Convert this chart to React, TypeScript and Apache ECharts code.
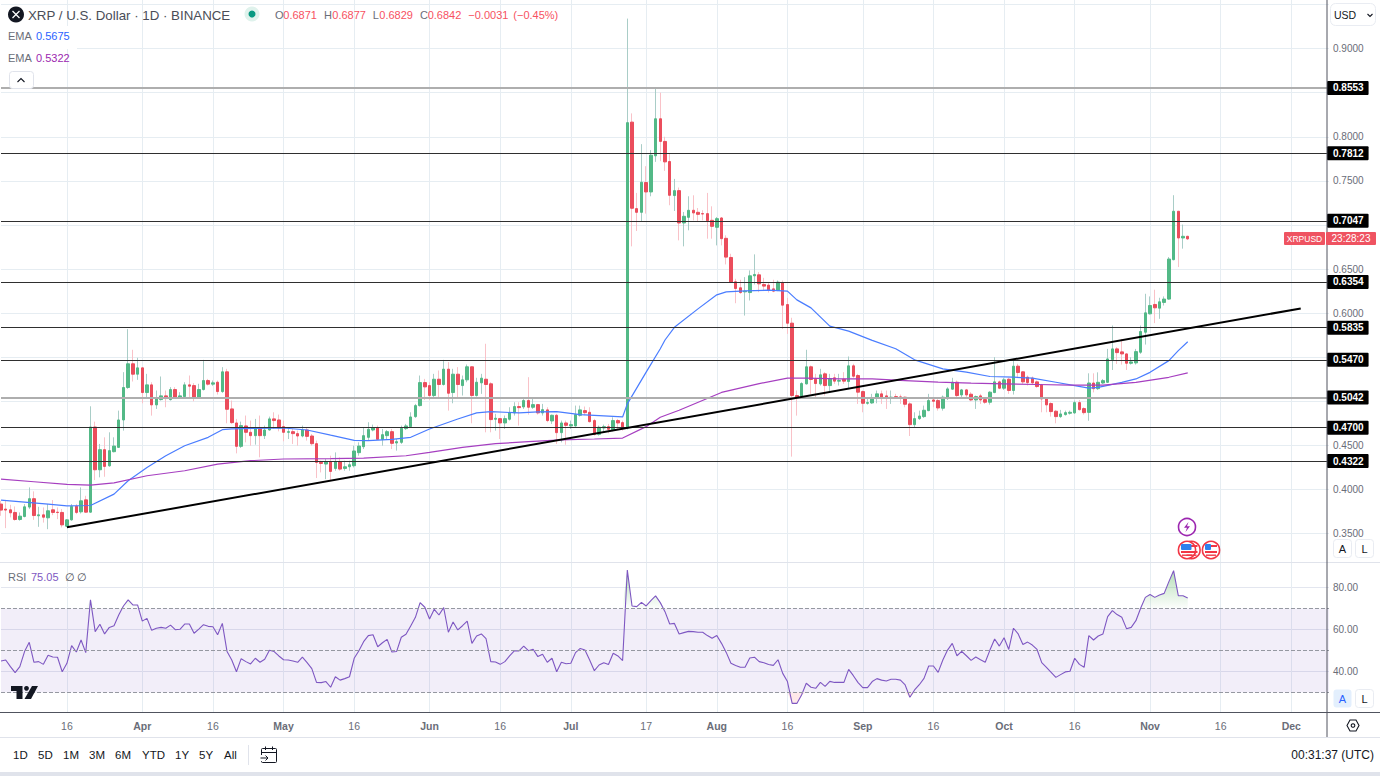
import React, { useEffect, useRef } from "react";
import * as echarts from "echarts";

type Row = [number, number, number, number];

// Daily candles, each row: open, close, low, high
const marchCandles: Row[] = [
  [.3834,.3766,.3701,.3872],[.3777,.3766,.3561,.3872],[.3769,.3735,.3683,.3826],[.3739,.3659,.3645,.3807],[.3659,.3697,.3645,.3739],
  [.3693,.3803,.3683,.3834],[.3800,.3895,.3777,.4023],[.3895,.3704,.3655,.3978],[.3701,.3712,.3576,.3803],[.3712,.3685,.3624,.3796],
  [.3678,.3758,.3549,.3834],[.3769,.3739,.3708,.3879],[.3742,.3738,.3663,.3796],[.3739,.3598,.3569,.3777],[.3583,.3655,.3576,.3663],
  [.3655,.3807,.3645,.3834],[.3810,.3739,.3720,.3834],[.3746,.3871,.3727,.4023],[.3882,.3742,.3734,.3928],[.3742,.4708,.3734,.4943],
  [.4708,.4223,.4106,.4769],[.4223,.4451,.4137,.4516],[.4451,.4261,.4144,.4591],[.4268,.4440,.4257,.4648],[.4428,.4492,.4420,.4591],
  [.4477,.4788,.4470,.4894],[.4788,.5156,.4667,.5330],[.5156,.5425,.5140,.5818],[.5425,.5307,.5224,.5584],[.5307,.5379,.5243,.5493],
];
const aprilCandles: Row[] = [
  [.5379,.5099,.4977,.5387],[.5099,.5186,.5027,.5311],[.5186,.4959,.4837,.5216],[.4959,.5031,.4913,.5122],[.5019,.5061,.5008,.5281],
  [.5061,.5031,.4932,.5122],[.5019,.5133,.5008,.5160],[.5133,.5046,.5038,.5160],[.5046,.5061,.5038,.5103],[.5053,.5186,.5038,.5216],
  [.5186,.5171,.5046,.5292],[.5178,.5042,.5000,.5205],[.5042,.5133,.5034,.5198],[.5133,.5235,.5122,.5470],[.5235,.5194,.5178,.5254],
  [.5194,.5209,.5175,.5235],[.5216,.5110,.5076,.5235],[.5110,.5334,.5095,.5387],[.5334,.4909,.4750,.5368],[.4913,.4758,.4743,.5008],
  [.4754,.4489,.4409,.4800],[.4489,.4724,.4470,.4769],[.4720,.4648,.4534,.4838],[.4648,.4610,.4496,.4781],[.4610,.4693,.4508,.4800],
  [.4697,.4610,.4364,.4838],[.4610,.4674,.4572,.4724],[.4674,.4800,.4667,.4826],[.4800,.4781,.4686,.4875],[.4788,.4697,.4659,.4849],
];
const mayCandles: Row[] = [
  [.4712,.4648,.4546,.4781],[.4648,.4655,.4572,.4705],[.4655,.4633,.4516,.4686],[.4633,.4606,.4496,.4667],[.4606,.4674,.4591,.4724],
  [.4674,.4602,.4554,.4697],[.4606,.4519,.4496,.4629],[.4519,.4307,.4129,.4554],[.4307,.4295,.4193,.4326],[.4288,.4314,.4117,.4345],
  [.4314,.4204,.4099,.4383],[.4238,.4314,.4212,.4420],[.4314,.4231,.4212,.4364],[.4238,.4257,.4212,.4326],[.4257,.4280,.4212,.4326],
  [.4269,.4436,.4250,.4496],[.4417,.4492,.4383,.4534],[.4485,.4610,.4458,.4705],[.4591,.4682,.4553,.4762],[.4674,.4701,.4659,.4735],
  [.4701,.4568,.4561,.4724],[.4568,.4621,.4496,.4686],[.4610,.4655,.4561,.4674],[.4655,.4523,.4458,.4686],[.4527,.4542,.4440,.4572],
  [.4534,.4693,.4515,.4724],[.4690,.4720,.4674,.4743],[.4712,.4822,.4697,.4875],[.4826,.4951,.4811,.4970],[.4951,.5212,.4940,.5292],
  [.5212,.5163,.5015,.5254],
];
const juneCandles: Row[] = [
  [.5178,.5065,.5015,.5216],[.5065,.5250,.5038,.5311],[.5250,.5190,.5046,.5349],[.5190,.5364,.5178,.5470],[.5364,.5091,.4894,.5444],
  [.5099,.5307,.4977,.5368],[.5307,.5190,.5038,.5387],[.5178,.5243,.5065,.5292],[.5243,.5391,.5216,.5417],[.5391,.5065,.4750,.5394],
  [.5065,.5216,.5053,.5266],[.5209,.5262,.5084,.5311],[.5250,.5190,.4648,.5652],[.5198,.4792,.4648,.5216],[.4796,.4807,.4667,.4857],
  [.4803,.4754,.4572,.4811],[.4754,.4803,.4686,.4838],[.4796,.4871,.4781,.4932],[.4868,.4940,.4838,.4989],[.4940,.4928,.4724,.4989],
  [.4936,.5008,.4913,.5046],[.5008,.4932,.4849,.5273],[.4932,.4962,.4913,.5027],[.4962,.4868,.4849,.4970],[.4868,.4905,.4838,.4970],
  [.4902,.4781,.4762,.4932],[.4777,.4841,.4743,.4849],[.4841,.4644,.4515,.4857],[.4644,.4754,.4534,.4781],[.4754,.4727,.4507,.4781],
];
const julyCandles: Row[] = [
  [.4720,.4735,.4686,.4781],[.4720,.4849,.4712,.4951],[.4841,.4902,.4826,.4951],[.4894,.4871,.4841,.4940],[.4875,.4769,.4758,.4932],
  [.4781,.4625,.4610,.4800],[.4625,.4705,.4610,.4724],[.4697,.4712,.4648,.4735],[.4712,.4682,.4637,.4743],[.4674,.4781,.4659,.4818],
  [.4781,.4754,.4674,.4800],[.4758,.4697,.4667,.4781],[.4698,.8160,.4680,.9340],[.8166,.7189,.6757,.8265],[.7185,.7143,.6931,.7363],
  [.7143,.7484,.7033,.7916],[.7481,.7374,.7128,.7666],[.7374,.7791,.7325,.7848],[.7784,.8204,.7715,.8549],[.8204,.7947,.7723,.8500],
  [.7947,.7715,.7613,.8000],[.7719,.7336,.7223,.7803],[.7333,.7389,.7158,.7522],[.7389,.7022,.6825,.7424],[.7022,.7098,.6757,.7147],
  [.7086,.7166,.6939,.7325],[.7166,.7136,.7052,.7336],[.7143,.7120,.7033,.7192],[.7128,.7124,.7052,.7166],[.7128,.7048,.6844,.7363],
  [.7052,.6984,.6844,.7211],
];
const augustCandles: Row[] = [
  [.6973,.7071,.6768,.7090],[.7079,.6844,.6768,.7090],[.6848,.6635,.6552,.6882],[.6631,.6347,.6340,.6673],[.6355,.6279,.6112,.6389],
  [.6287,.6233,.6218,.6378],[.6241,.6249,.5972,.6408],[.6233,.6423,.6143,.6484],[.6423,.6438,.6325,.6666],[.6434,.6332,.6237,.6465],
  [.6325,.6306,.6249,.6400],[.6317,.6264,.6233,.6351],[.6275,.6249,.6237,.6378],[.6256,.6351,.6249,.6370],[.6347,.6090,.5820,.6370],
  [.6097,.5885,.5764,.6173],[.5886,.5065,.4372,.5947],[.5065,.5046,.4837,.5122],[.5057,.5201,.5038,.5216],[.5197,.5391,.5190,.5584],
  [.5391,.5247,.5084,.5406],[.5250,.5201,.5038,.5311],[.5197,.5300,.5178,.5368],[.5311,.5178,.5065,.5330],[.5178,.5258,.5103,.5311],
  [.5266,.5228,.5197,.5311],[.5228,.5235,.5178,.5311],[.5250,.5228,.5197,.5330],[.5224,.5402,.5140,.5508],[.5402,.5284,.5266,.5425],
  [.5292,.5103,.4970,.5311],
];
const septemberCandles: Row[] = [
  [.5110,.4977,.4875,.5122],[.4977,.4985,.4962,.5038],[.4981,.5038,.4970,.5084],[.5038,.5084,.4977,.5122],[.5084,.5046,.4970,.5122],
  [.5061,.5031,.4913,.5122],[.5034,.5046,.4970,.5122],[.5053,.5042,.5027,.5084],[.5050,.5038,.4970,.5076],[.5046,.4966,.4932,.5053],
  [.4970,.4735,.4606,.4989],[.4735,.4803,.4705,.4875],[.4803,.4833,.4788,.4894],[.4826,.4898,.4811,.4951],[.4894,.5008,.4887,.5084],
  [.5015,.5000,.4932,.5046],[.5008,.4924,.4894,.5046],[.4921,.5046,.4894,.5065],[.5031,.5140,.5015,.5159],[.5137,.5216,.5129,.5266],
  [.5216,.5065,.5027,.5235],[.5072,.5129,.5027,.5140],[.5129,.5072,.5046,.5140],[.5080,.5015,.5000,.5103],[.5015,.5053,.4913,.5065],
  [.5061,.5015,.4970,.5084],[.5019,.4989,.4970,.5038],[.4989,.5103,.4962,.5114],[.5099,.5220,.5091,.5500],[.5220,.5148,.5137,.5235],
];
const octoberCandles: Row[] = [
  [.5148,.5243,.5129,.5266],[.5250,.5122,.5084,.5266],[.5122,.5398,.5076,.5482],[.5398,.5326,.5273,.5425],[.5334,.5220,.5197,.5341],
  [.5273,.5212,.5178,.5292],[.5262,.5209,.5190,.5281],[.5220,.5167,.5152,.5235],[.5186,.5027,.4875,.5197],[.5027,.4959,.4875,.5046],
  [.4974,.4883,.4826,.4989],[.4887,.4826,.4750,.4902],[.4826,.4856,.4811,.4902],[.4849,.4871,.4837,.4894],[.4864,.4875,.4849,.4894],
  [.4868,.4985,.4856,.5008],[.4985,.4905,.4894,.5015],[.4917,.4871,.4849,.4932],[.4874,.5207,.4779,.5317],[.5207,.5143,.5101,.5317],
  [.5143,.5215,.5128,.5328],[.5207,.5234,.5196,.5253],[.5215,.5480,.5207,.5594],[.5472,.5594,.5355,.5859],[.5594,.5552,.5423,.5613],
  [.5560,.5537,.5416,.5707],[.5537,.5431,.5355,.5544],[.5431,.5446,.5416,.5499],[.5435,.5563,.5416,.5594],[.5556,.5791,.5537,.5859],
  [.5783,.6003,.5643,.6219],
];
const novemberCandles: Row[] = [
  [.5992,.6086,.5984,.6189],[.6098,.6060,.5886,.6265],[.6056,.6128,.5935,.6174],[.6121,.6159,.6086,.6189],[.6159,.6613,.6151,.6636],
  [.6606,.7155,.6598,.7337],[.7155,.6852,.6522,.7159],[.6852,.6871,.6731,.7004],[.6871,.6842,.6829,.6877],
];
const candles: Row[] = [
  ...marchCandles, ...aprilCandles, ...mayCandles, ...juneCandles, ...julyCandles,
  ...augustCandles, ...septemberCandles, ...octoberCandles, ...novemberCandles,
];

// Day numbers counted from 2 March, with the moving average read there
const blueEmaDays = [0,5,10,14,19,24,27,31,35,39,44,47,49,54,60,65,70,75,78,83,87,91,97,101,104,110,114,118,123,127,132,133,137,140,141,143,148,152,154,158,163,167,169,172,176,180,185,190,194,200,205,210,215,219,224,228,231,233,238,241,244,248,250,252];
const blueEmaValues = [.3878,.3856,.3833,.3814,.3818,.3947,.4098,.4250,.4382,.4496,.4591,.4678,.4686,.4693,.4697,.4674,.4615,.4557,.4553,.4568,.4591,.4686,.4799,.4868,.4883,.4868,.4879,.4883,.4849,.4837,.4822,.4970,.5330,.5595,.5695,.5839,.6048,.6207,.6241,.6252,.6260,.6249,.6150,.6059,.5852,.5795,.5690,.5595,.5470,.5368,.5330,.5281,.5273,.5262,.5216,.5178,.5150,.5158,.5215,.5253,.5328,.5461,.5575,.5675];
const purpleEmaDays = [0,7,14,19,24,31,39,46,53,60,70,77,86,91,98,105,112,119,126,132,137,140,144,153,161,167,171,178,185,192,199,206,213,220,227,234,241,248,252];
const purpleEmaValues = [.4117,.4087,.4057,.4049,.4075,.4155,.4212,.4288,.4326,.4345,.4350,.4356,.4382,.4420,.4477,.4519,.4542,.4561,.4572,.4583,.4712,.4818,.4898,.5100,.5200,.5262,.5262,.5254,.5254,.5235,.5216,.5205,.5197,.5190,.5182,.5183,.5215,.5272,.5322];

const rsiValues = [
  45.0,45.5,42.3,39.5,42.3,49.5,53.9,44.4,44.7,43.4,47.7,46.9,46.8,39.9,43.9,52.3,49.3,55.0,49.0,74.1,
  59.0,62.5,57.9,61.0,61.8,66.9,71.2,74.1,71.7,71.7,64.0,65.3,59.6,60.6,61.0,60.6,62.1,59.9,60.1,62.6,
  62.6,58.2,60.2,62.3,61.5,61.3,57.5,62.9,49.5,45.5,39.9,46.1,44.7,43.6,46.3,44.4,45.8,50.1,49.5,47.4,
  45.6,45.5,45.0,44.4,46.8,44.2,41.4,34.8,34.7,35.2,32.5,37.5,35.9,36.6,37.5,46.3,49.9,54.2,57.1,57.5,
  51.8,53.7,55.3,49.3,49.5,56.3,57.7,61.7,65.8,72.8,70.6,65.0,69.6,66.9,70.4,58.7,63.6,59.8,
  61.8,64.0,53.4,56.9,57.9,55.6,44.7,44.5,43.4,44.7,47.4,49.8,49.8,52.1,49.9,50.6,47.1,48.2,44.4,46.3,
  39.9,44.4,43.7,43.9,49.0,51.0,50.2,45.5,40.4,43.1,44.2,43.3,48.7,47.4,45.2,
  88.3,71.2,70.9,72.9,71.2,73.7,76.0,72.8,68.5,62.6,62.9,57.9,58.5,59.1,59.0,58.7,58.7,57.1,55.8,57.1,
  53.4,49.1,43.9,42.9,42.0,42.0,46.4,46.8,44.7,44.2,43.3,42.9,45.6,39.1,35.2,24.8,24.8,28.8,34.4,32.5,
  32.0,34.8,32.9,35.3,34.8,34.8,34.8,41.0,38.0,34.7,32.3,32.3,35.2,36.6,35.9,35.5,36.3,36.3,35.9,33.6,
  27.7,31.2,33.7,
  36.7,42.6,42.6,39.6,45.5,50.2,53.4,47.5,49.6,47.5,45.3,46.9,45.6,44.4,50.2,55.5,52.1,56.1,50.5,60.6,
  57.9,52.9,54.0,52.6,50.5,44.2,42.0,39.6,37.2,38.5,39.8,40.1,46.3,43.4,42.0,57.1,55.0,56.9,57.9,66.1,
  69.0,67.1,65.8,60.4,61.0,64.2,70.1,75.3,76.7,75.3,76.4,77.2,82.8,88.0,76.1,76.1,75.05,
];

const thinLevels = [0.7812, 0.7047, 0.6354, 0.5835, 0.5470, 0.4700, 0.4322];
const thickLevels = [0.8553, 0.5042];
const trendDays = [14, 276];
const trendValues = [0.357, 0.6053];
const priceGridTicks = [0.35,0.40,0.45,0.50,0.55,0.60,0.65,0.70,0.75,0.80,0.85,0.90,0.95];
const priceLabelTicks = [0.35,0.40,0.45,0.60,0.65,0.75,0.80,0.90];
const rsiTicks = [40, 60, 80];
const rsiGuides = [70, 50, 30];
const axisDays = ["03-16","04-01","04-16","05-01","05-16","06-01","06-16","07-01","07-17","08-01","08-16","09-01","09-16","10-01","10-16","11-01","11-16","12-01"];
const axisTexts = ["16","Apr","16","May","16","Jun","16","Jul","17","Aug","16","Sep","16","Oct","16","Nov","16","Dec"];
const rangeButtons = ["1D","5D","1M","3M","6M","YTD","1Y","5Y","All"];

const categories: string[] = [];
for (let t = Date.UTC(2023, 2, 2), i = 0; i <= 282; i++, t += 86400000) {
  categories.push(new Date(t).toISOString().slice(5, 10));
}

const FONT = '"Liberation Sans", Arial, sans-serif';
const GRID = "#e6edf2";
const UP = "#53b987";
const DOWN = "#eb4d5c";

const txt = (text: string, x: number, y: number, fill: string, size = 11, align = "left", weight = "normal", z = 20) => ({
  type: "text", x, y, z, silent: true,
  style: { text, fill, font: `${weight} ${size}px ${FONT}`, align, verticalAlign: "middle", textAlign: align, textVerticalAlign: "middle" },
});
const box = (x: number, y: number, width: number, height: number, fill: string, stroke = "none", r = 0, z = 18) => ({
  type: "rect", z, silent: true, shape: { x, y, width, height, r },
  style: { fill, stroke: stroke === "none" ? undefined : stroke, lineWidth: 1 },
});
const seg = (x1: number, y1: number, x2: number, y2: number, stroke: string, lineWidth = 1, z = 18) => ({
  type: "line", z, silent: true, shape: { x1, y1, x2, y2 }, style: { stroke, lineWidth },
});
const poly = (points: number[][], fill: string, z = 20) => ({ type: "polygon", z, silent: true, shape: { points }, style: { fill } });
const pline = (points: number[][], stroke: string, lineWidth = 1.2, z = 20) => ({
  type: "polyline", z, silent: true, shape: { points }, style: { stroke, lineWidth, fill: "none" },
});
const disc = (cx: number, cy: number, r: number, fill: string, stroke = "none", lineWidth = 1, z = 20) => ({
  type: "circle", z, silent: true, shape: { cx, cy, r }, style: { fill, stroke: stroke === "none" ? undefined : stroke, lineWidth },
});
const flag = (cx: number, cy: number) => [
  disc(cx, cy, 8.6, "#ffffff", "#f23645", 1.6),
  box(cx - 6, cy - 5, 12, 2, "#f23645", "none", 0, 21),
  box(cx - 6, cy + 1, 12, 2, "#f23645", "none", 0, 21),
  box(cx - 5, cy + 4.5, 10, 1.4, "#f23645", "none", 0, 21),
  box(cx - 6, cy - 6, 6, 6, "#2f80ed", "none", 1, 22),
];

const graphics = [
  seg(0, 562.5, 1380, 562.5, "#e0e3eb"),
  seg(0, 712.5, 1380, 712.5, "#50535e"),
  seg(0, 737.5, 1380, 737.5, "#e0e3eb"),
  seg(1327, 0, 1327, 737, "#50535e"),
  box(0, 772, 1380, 4, "#e0e3eb"),
  // header
  disc(16, 14.5, 8, "#131722"),
  seg(12.5, 11, 19.5, 18, "#ffffff", 1.3, 21),
  seg(19.5, 11, 12.5, 18, "#ffffff", 1.3, 21),
  txt("XRP / U.S. Dollar · 1D · BINANCE", 28, 15, "#4a4d57", 13.3),
  disc(252, 14, 7.5, "#dff2ec"),
  disc(252, 14, 3.5, "#089981", "none", 1, 21),
  txt("O", 275, 15, "#6a6d78"), txt("0.6871", 283.3, 15, "#f7525f"),
  txt("H", 324, 15, "#6a6d78"), txt("0.6877", 332.3, 15, "#f7525f"),
  txt("L", 372.7, 15, "#6a6d78"), txt("0.6829", 379.3, 15, "#f7525f"),
  txt("C", 420, 15, "#6a6d78"), txt("0.6842", 427.7, 15, "#f7525f"),
  txt("−0.0031", 468.3, 15, "#f7525f"), txt("(−0.45%)", 513.3, 15, "#f7525f"),
  box(0, 26, 77, 23, "#ffffff", "none", 0, 3),
  txt("EMA", 8, 36, "#6a6d78"), txt("0.5675", 36, 36, "#2962ff"),
  txt("EMA", 8, 58, "#6a6d78"), txt("0.5322", 36, 58, "#9c27b0"),
  box(9.5, 71.5, 24, 17, "#ffffff", "#e0e3eb", 3, 7),
  pline([[17.5, 82], [21, 78.5], [24.5, 82]], "#131722", 1.1),
  // RSI legend and logo
  txt("RSI", 8, 577, "#6a6d78"), txt("75.05", 31, 577, "#7e57c2"),
  txt("∅", 65, 577, "#4a4d57"), txt("∅", 77, 577, "#4a4d57"),
  poly([[11, 686], [22.5, 686], [22.5, 699], [16.5, 699], [16.5, 691], [11, 691]], "#131722"),
  disc(26.5, 688.3, 2.4, "#131722"),
  poly([[32, 686], [38, 686], [31, 699], [24.5, 699]], "#131722"),
  // price scale widgets
  box(1330.5, 3.5, 45, 22, "#ffffff", "#e9ecf2", 5),
  txt("USD", 1334, 15, "#131722", 10.5),
  pline([[1367.5, 14], [1370, 16.5], [1372.5, 14]], "#131722", 1.1),
  box(1284, 232, 41, 13, "#ef5361", "none", 1, 18),
  txt("XRPUSD", 1304.5, 238.5, "#ffffff", 8.5, "center"),
  box(1326, 232, 50, 13, "#ef5361", "none", 1, 18),
  txt("23:28:23", 1351, 238.5, "#ffffff", 10, "center"),
  box(1333.5, 539.5, 18, 18, "#ffffff", "#e9ecf2", 3),
  txt("A", 1342.5, 549, "#131722", 11, "center"),
  box(1355.5, 539.5, 18, 18, "#ffffff", "#e9ecf2", 3),
  txt("L", 1364.5, 549, "#131722", 11, "center"),
  box(1333.5, 689.5, 18, 18, "#e3effd", "none", 3),
  txt("A", 1342.5, 699, "#2962ff", 11, "center"),
  box(1355.5, 689.5, 18, 18, "#ffffff", "#e9ecf2", 3),
  txt("L", 1364.5, 699, "#131722", 11, "center"),
  { type: "polygon", z: 20, silent: true, shape: { points: [[1347, 725.5], [1350, 720], [1356, 720], [1359, 725.5], [1356, 731], [1350, 731]] }, style: { fill: "none", stroke: "#131722", lineWidth: 1.1 } },
  disc(1353, 725.5, 1.8, "#ffffff", "#131722", 1.1),
  // events
  disc(1187, 527, 8.5, "#ffffff", "#9c27b0", 1.6),
  poly([[1188.5, 522], [1184, 527.8], [1187, 527.8], [1185.5, 532], [1190, 526.2], [1187, 526.2]], "#9c27b0", 21),
  ...flag(1191.5, 550),
  ...flag(1187, 550),
  ...flag(1211, 550),
  // bottom bar
  ...rangeButtons.map((label, i) => txt(label, [13, 38, 63, 89, 115, 142, 175, 199, 224][i], 755, "#131722", 11.5)),
  seg(248.5, 745, 248.5, 765, "#e0e3eb"),
  box(261.5, 748.5, 15, 14, "#ffffff", "#131722", 1),
  seg(261.5, 752.5, 276.5, 752.5, "#131722"),
  seg(265.5, 746.5, 265.5, 750, "#131722"),
  seg(272.5, 746.5, 272.5, 750, "#131722"),
  box(259, 755, 9, 6, "#ffffff", "none", 0, 19),
  pline([[260.5, 758], [268, 758]], "#131722", 1),
  pline([[265.5, 755.5], [268, 758], [265.5, 760.5]], "#131722", 1),
  txt("00:31:37 (UTC)", 1374, 754.5, "#131722", 12, "right"),
];

const dayToName = (d: number) => categories[d];
const levelLine = (value: number, color: string, width: number) => ({
  yAxis: value,
  lineStyle: { color, width, type: "solid" },
});

const App: React.FC = () => {
  const ref = useRef<HTMLDivElement>(null);
  useEffect(() => {
    if (!ref.current) return;
    const chart = echarts.init(ref.current, undefined, { renderer: "svg" });
    const xBase = {
      type: "category",
      data: categories,
      boundaryGap: false,
      axisLine: { show: false },
      axisTick: { show: false, interval: (_: number, v: string) => axisDays.includes(v) },
      splitLine: { show: true, interval: (_: number, v: string) => axisDays.includes(v), lineStyle: { color: GRID, width: 1 } },
    };
    chart.setOption({
      animation: false,
      backgroundColor: "#ffffff",
      textStyle: { fontFamily: FONT },
      grid: [
        { left: 1, top: 0, width: 1328, height: 562 },
        { left: 1, top: 563, width: 1328, height: 149 },
      ],
      xAxis: [
        { ...xBase, gridIndex: 0, axisLabel: { show: false } },
        {
          ...xBase,
          gridIndex: 1,
          axisLabel: {
            show: true,
            interval: (_: number, v: string) => axisDays.includes(v),
            margin: 8,
            fontFamily: FONT,
            fontSize: 10.5,
            color: "#6a6d78",
            formatter: (v: string) => {
              const label = axisTexts[axisDays.indexOf(v)] ?? "";
              return /\d/.test(label) ? label : `{m|${label}}`;
            },
            rich: { m: { fontFamily: FONT, fontSize: 10.5, fontWeight: "bold", color: "#6a6d78" } },
          },
        },
      ],
      yAxis: [
        {
          type: "value", gridIndex: 0, position: "right", min: 0.3177, max: 0.9551,
          axisLine: { show: false },
          axisTick: { show: false, customValues: priceGridTicks },
          axisLabel: { customValues: priceLabelTicks, margin: 4, fontFamily: FONT, fontSize: 10, color: "#6a6d78", formatter: (v: number) => v.toFixed(4) },
          splitLine: { show: true, lineStyle: { color: GRID, width: 1 } },
        },
        {
          type: "value", gridIndex: 1, position: "right", min: 20.71, max: 91.67,
          axisLine: { show: false },
          axisTick: { show: false, customValues: rsiTicks },
          axisLabel: { customValues: rsiTicks, margin: 4, fontFamily: FONT, fontSize: 10, color: "#6a6d78", formatter: (v: number) => v.toFixed(2) },
          splitLine: { show: true, lineStyle: { color: "#e3e6ef", width: 1 } },
        },
      ],
      graphic: { elements: graphics },
      series: [
        {
          name: "wicks", type: "candlestick", xAxisIndex: 0, yAxisIndex: 0,
          data: candles.map((c) => c), barWidth: 1, z: 2,
          itemStyle: { color: "#a9cdc7", color0: "#f9c2c8", borderColor: "#a9cdc7", borderColor0: "#f9c2c8", borderWidth: 1 },
          silent: true,
        },
        {
          name: "XRPUSD", type: "candlestick", xAxisIndex: 0, yAxisIndex: 0,
          data: candles.map((c) => [c[0], c[1], Math.min(c[0], c[1]), Math.max(c[0], c[1])]),
          barWidth: 3, z: 3,
          itemStyle: { color: UP, color0: DOWN, borderColor: UP, borderColor0: DOWN, borderWidth: 1 },
          silent: true,
          markLine: {
            silent: true, symbol: "none", z: 6, animation: false, precision: 4,
            label: {
              show: true, position: "end", distance: -2, color: "#ffffff", backgroundColor: "#000000",
              fontFamily: FONT, fontSize: 10, fontWeight: "bold", padding: [2, 5, 2, 6], borderRadius: 1,
              formatter: (p: any) => Number(p.value).toFixed(4),
            },
            data: [
              ...thickLevels.map((v) => levelLine(v, "#aeaeae", 2)),
              ...thinLevels.map((v) => levelLine(v, "#2f2f2f", 1)),
            ],
          },
        },
        {
          name: "EMA 1", type: "line", xAxisIndex: 0, yAxisIndex: 0, showSymbol: false, z: 4, silent: true,
          data: blueEmaDays.map((d, i) => [dayToName(d), blueEmaValues[i]]),
          lineStyle: { color: "#4a7dff", width: 1.2 },
        },
        {
          name: "EMA 2", type: "line", xAxisIndex: 0, yAxisIndex: 0, showSymbol: false, z: 4, silent: true,
          data: purpleEmaDays.map((d, i) => [dayToName(d), purpleEmaValues[i]]),
          lineStyle: { color: "#a63fc0", width: 1.2 },
        },
        {
          name: "Trend", type: "line", xAxisIndex: 0, yAxisIndex: 0, showSymbol: false, z: 7, silent: true,
          data: trendDays.map((d, i) => [dayToName(d), trendValues[i]]),
          lineStyle: { color: "#000000", width: 2 },
        },
        {
          name: "RSI over", type: "line", xAxisIndex: 1, yAxisIndex: 1, showSymbol: false, z: 2, silent: true,
          data: rsiValues.map((v, i) => [categories[i], Math.max(v, 70)]),
          lineStyle: { width: 0, opacity: 0 },
          areaStyle: {
            origin: 70,
            color: new echarts.graphic.LinearGradient(0, 0, 0, 1, [
              { offset: 0, color: "rgba(76,175,80,0.6)" },
              { offset: 1, color: "rgba(76,175,80,0.02)" },
            ]),
          },
        },
        {
          name: "RSI under", type: "line", xAxisIndex: 1, yAxisIndex: 1, showSymbol: false, z: 2, silent: true,
          data: rsiValues.map((v, i) => [categories[i], Math.min(v, 30)]),
          lineStyle: { width: 0, opacity: 0 },
          areaStyle: { origin: 30, color: "rgba(255,82,82,0.18)" },
        },
        {
          name: "RSI", type: "line", xAxisIndex: 1, yAxisIndex: 1, showSymbol: false, z: 4, silent: true,
          data: rsiValues.map((v, i) => [categories[i], v]),
          lineStyle: { color: "#7e57c2", width: 1.1 },
          markArea: { silent: true, itemStyle: { color: "rgba(126,87,194,0.1)" }, data: [[{ yAxis: 70 }, { yAxis: 30 }]] },
          markLine: {
            silent: true, symbol: "none", label: { show: false },
            lineStyle: { type: "dashed", color: "#9598a1", width: 1 },
            data: rsiGuides.map((v) => ({ yAxis: v })),
          },
        },
      ],
    });
    return () => chart.dispose();
  }, []);
  return <div ref={ref} style={{ position: "fixed", left: 0, top: 0, width: 1380, height: 776 }} />;
};

export default App;
